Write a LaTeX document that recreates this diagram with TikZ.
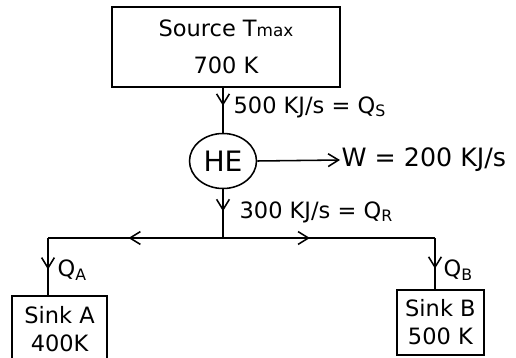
\documentclass[tikz,border=0pt]{standalone}
\usepackage{fontspec}
\setmainfont{DejaVu Sans}
\usetikzlibrary{arrows.meta,shapes.geometric,decorations.markings}

\begin{document}
\begin{tikzpicture}[
  every node/.style={font=\fontsize{16}{20}\selectfont},
  box/.style={draw,line width=1.1pt,align=center,inner sep=2pt},
  lab/.style={anchor=west,inner sep=1pt},
  edge/.style={draw,line width=1.1pt},
  tip/.style={-{Straight Barb[length=2.6mm,width=3.2mm]}},
  midarrow/.style={postaction={decorate},decoration={markings,
      mark=at position #1 with {\arrow{Straight Barb[length=2.6mm,width=3.2mm]}}}}
]
\useasboundingbox (0,0) rectangle (12.9,-8.95);
\node[box,minimum width=5.7cm,minimum height=2.0cm] (src) at (5.65,-1.175)
  {Source T{\fontsize{12}{14}\selectfont max}\\[6pt]700 K};
\node[draw,ellipse,line width=1.1pt,minimum width=1.675cm,minimum height=1.375cm,
      inner sep=0pt,font=\fontsize{20}{24}\selectfont] (he) at (5.575,-4.025) {HE};
\node[box,minimum width=2.375cm,minimum height=1.65cm] (sinka) at (1.49,-8.225) {Sink A\\400K};
\node[box,minimum width=2.175cm,minimum height=1.625cm] (sinkb) at (11.01,-8.06) {Sink B\\500 K};

\node[lab] (qs) at (5.8,-2.68)  {500 KJ/s = Q\textsubscript{S}};
\node[lab,font=\fontsize{18}{20}\selectfont] (w) at (8.5,-4.0) {W = 200 KJ/s};
\node[lab] (qr) at (5.95,-5.3)  {300 KJ/s = Q\textsubscript{R}};
\node[lab] (qa) at (1.4,-6.75)  {Q\textsubscript{A}};
\node[lab] (qb) at (11.05,-6.75) {Q\textsubscript{B}};

\coordinate (split)   at (5.575,-5.95);
\coordinate (acorner) at (1.2,-5.95);
\coordinate (bcorner) at (10.875,-5.95);

\draw[edge,midarrow=0.4]  (he.north |- src.south) -- (he.north);
\draw[edge,tip]           (he.east) -- (w.west);
\draw[edge,midarrow=0.45] (he.south) -- (split);
\draw[edge,midarrow=0.54] (split) -- (acorner);
\draw[edge,midarrow=0.41] (split) -- (bcorner);
\draw[edge,midarrow=0.55] (acorner) -- (acorner |- sinka.north);
\draw[edge,midarrow=0.6]  (bcorner) -- (bcorner |- sinkb.north);
\end{tikzpicture}
\end{document}
